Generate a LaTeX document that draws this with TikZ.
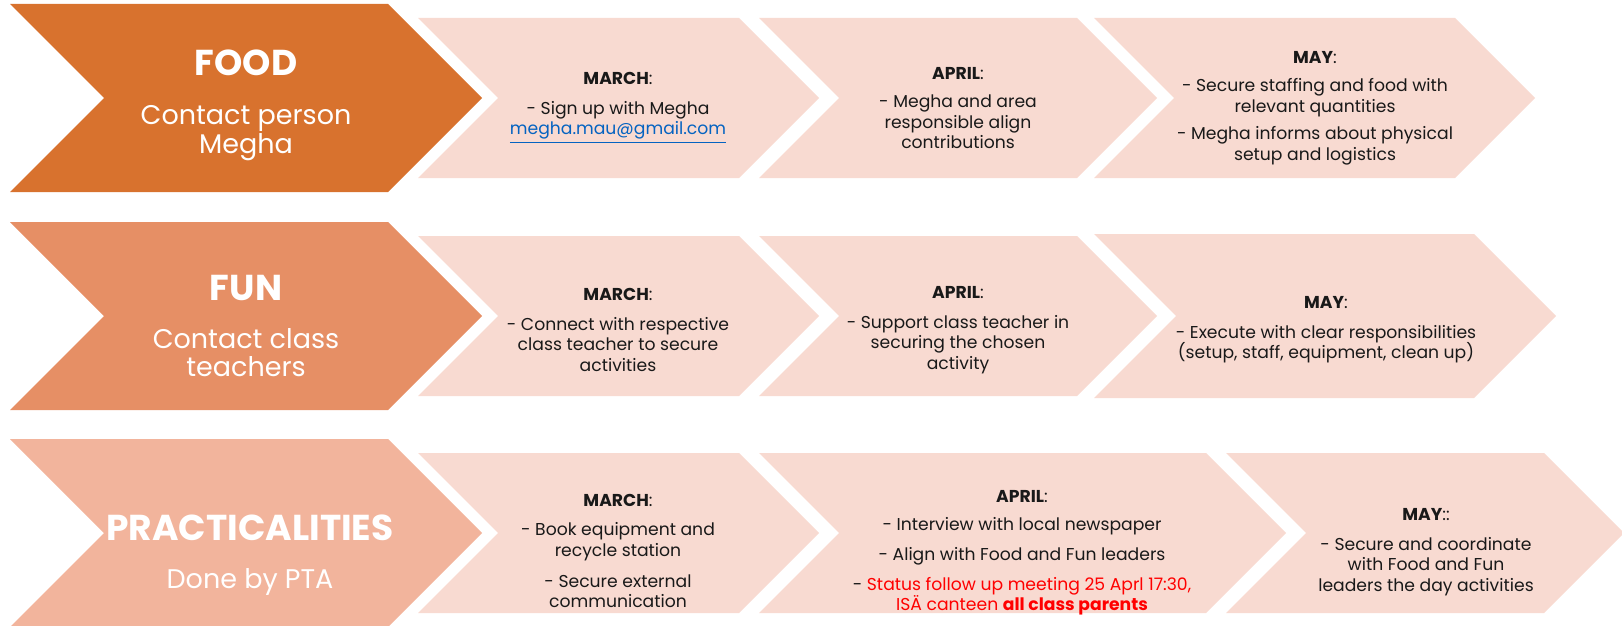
\documentclass[tikz,border=0pt]{standalone}
\usepackage{fontspec}
\setmainfont{Poppins}
\usetikzlibrary{positioning}
\definecolor{foodorange}{RGB}{216,114,46}
\definecolor{funorange}{RGB}{230,143,101}
\definecolor{practpeach}{RGB}{242,180,156}
\definecolor{steppink}{RGB}{248,218,209}
\definecolor{linkblue}{RGB}{5,99,193}
\definecolor{alertred}{RGB}{255,0,0}
\definecolor{bodytext}{RGB}{25,25,25}
\tikzstyle{areatext}=[
  text=white, align=center, inner sep=0pt, font=\fontsize{13.5}{14.2}\selectfont
]
\tikzstyle{monthtext}=[
  text=bodytext, align=center, inner sep=0pt, font=\fontsize{8.6}{10.3}\selectfont
]
% fill, left x, top-right x, centre y, half height
\newcommand{\chevron}[5]{%
  \fill[#1] (#2,#4-#5) -- (#3,#4-#5) -- (#3+#5,#4) -- (#3,#4+#5) -- (#2,#4+#5) -- (#2+#5,#4) -- cycle;
}
\newcommand{\areatitle}[1]{{\fontsize{18}{20}\selectfont\bfseries #1}}
\newcommand{\monthhead}[1]{\textbf{#1}:}

\begin{document}
\begin{tikzpicture}[x=0.5pt,y=-0.5pt]
    \useasboundingbox (0,0) rectangle (1622,626);
    % food
    \chevron{foodorange}{10}{388}{98}{94}
    \chevron{steppink}{418}{739}{98}{80}
    \chevron{steppink}{759}{1077}{98}{80}
    \chevron{steppink}{1094}{1455}{98}{80}
    % fun
    \chevron{funorange}{10}{388}{316}{94}
    \chevron{steppink}{418}{739}{316}{80}
    \chevron{steppink}{759}{1077}{316}{80}
    \chevron{steppink}{1094}{1474}{316}{82}
    % practicalities
    \chevron{practpeach}{10}{388}{533}{94}
    \chevron{steppink}{418}{739}{533}{80}
    \chevron{steppink}{759}{1206}{533}{80}
    \chevron{steppink}{1226}{1544}{533}{80}

    \node (food) at (246,105) [areatext] {\areatitle{FOOD}\\[10.5pt]Contact person\\Megha};
    \node (foodmarch) at (618,108) [monthtext]
      {\monthhead{MARCH}\\[4.5pt]- Sign up with Megha\\\textcolor{linkblue}{\underline{megha.mau@gmail.com}}};
    \node (foodapril) at (958,108) [monthtext]
      {\monthhead{APRIL}\\[4pt]- Megha and area\\responsible align\\contributions};
    \node (foodmay) at (1315,108) [monthtext]
      {\monthhead{MAY}\\[4pt]- Secure staffing and food with\\relevant quantities\\[3.5pt]- Megha informs about physical\\setup and logistics};

    \node (fun) at (246,326) [areatext] {\areatitle{FUN}\\[10pt]Contact class\\teachers};
    \node (funmarch) at (618,330) [monthtext]
      {\monthhead{MARCH}\\[4.5pt]- Connect with respective\\class teacher to secure\\activities};
    \node (funapril) at (958,330) [monthtext]
      {\monthhead{APRIL}\\[4.5pt]- Support class teacher in\\securing the chosen\\activity};
    \node (funmay) at (1326,330) [monthtext]
      {\monthhead{MAY}\\[4.5pt]- Execute with clear responsibilities\\(setup, staff, equipment, clean up)};

    \node (pract) at (250,555) [areatext] {\areatitle{PRACTICALITIES}\\[10pt]Done by PTA};
    \node (practmarch) at (618,551) [monthtext]
      {\monthhead{MARCH}\\[4.5pt]- Book equipment and\\recycle station\\[5pt]- Secure external\\communication};
    \node (practapril) at (1022,553) [monthtext]
      {\monthhead{APRIL}\\[3.5pt]- Interview with local newspaper\\[5pt]- Align with Food and Fun leaders\\[4.5pt]- \textcolor{alertred}{Status follow up meeting 25 Aprl 17:30,}\\\textcolor{alertred}{ISÄ canteen \textbf{all class parents}}};
    \node (practmay) at (1426,552) [monthtext]
      {\textbf{MAY}::\\[4.5pt]- Secure and coordinate\\with Food and Fun\\leaders the day activities};
\end{tikzpicture}
\end{document}
